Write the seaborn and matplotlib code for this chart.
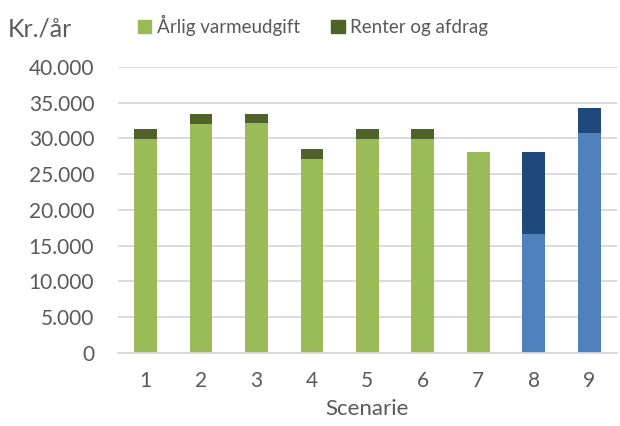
import numpy as np
import matplotlib.pyplot as plt
import matplotlib.patches as mpatches
import seaborn as sns
import pandas as pd

scenarier = ["1", "2", "3", "4", "5", "6", "7", "8", "9"]
varmeudgift = [29900, 32000, 32100, 27100, 29900, 29900, 28070, 16560, 30700]
renter = [1350, 1350, 1350, 1400, 1350, 1400, 0, 11510, 3550]

lys = ["#9BBB59"] * 7 + ["#4F81BD"] * 2
mork = ["#4F6228"] * 7 + ["#1F497D"] * 2

df = pd.DataFrame({"Scenarie": scenarier,
                   "Årlig varmeudgift": varmeudgift,
                   "Renter og afdrag": renter})
df["Total"] = df["Årlig varmeudgift"] + df["Renter og afdrag"]

sns.set_style("white")
plt.rcParams['font.family'] = ['Lato', 'DejaVu Sans']
tekst = "#595959"

fig = plt.figure(figsize=(6.2, 4.26), dpi=100)
ax = fig.add_axes([0.19, 0.172, 0.805, 0.671])

# stablede søjler: total bagerst, varmeudgift foran
sns.barplot(data=df, x="Scenarie", y="Total", hue="Scenarie", palette=mork,
            width=0.41, legend=False, ax=ax, saturation=1, linewidth=0)
sns.barplot(data=df, x="Scenarie", y="Årlig varmeudgift", hue="Scenarie", palette=lys,
            width=0.41, legend=False, ax=ax, saturation=1, linewidth=0)

ax.set_ylim(0, 40000)
ax.set_yticks(np.arange(0, 40001, 5000))
ax.set_yticklabels([f"{v:,}".replace(",", ".") for v in range(0, 40001, 5000)])
ax.yaxis.grid(True, color="#D9D9D9", linewidth=1.3)
ax.set_axisbelow(True)
for s in ["top", "right", "left"]:
    ax.spines[s].set_visible(False)
ax.spines["bottom"].set_color("#D9D9D9")
ax.spines["bottom"].set_linewidth(1.3)
ax.tick_params(axis="y", colors=tekst, labelsize=15, length=0, pad=17)
ax.tick_params(axis="x", colors=tekst, labelsize=15, length=0, pad=13)
ax.set_ylabel("")
ax.set_xlabel("Scenarie", color=tekst, fontsize=16, labelpad=6)

fig.text(0.013, 0.933, "Kr./år", color=tekst, fontsize=18, va="center")

haandtag = [mpatches.Patch(color="#9BBB59", label="Årlig varmeudgift"),
            mpatches.Patch(color="#4F6228", label="Renter og afdrag")]
fig.legend(handles=haandtag, loc="center left", bbox_to_anchor=(0.195, 0.94), ncol=2,
           frameon=False, fontsize=13.5, labelcolor=tekst, handlelength=0.7,
           handleheight=0.7, handletextpad=0.3, columnspacing=1.7)

fig.savefig("out.png", dpi=100)
